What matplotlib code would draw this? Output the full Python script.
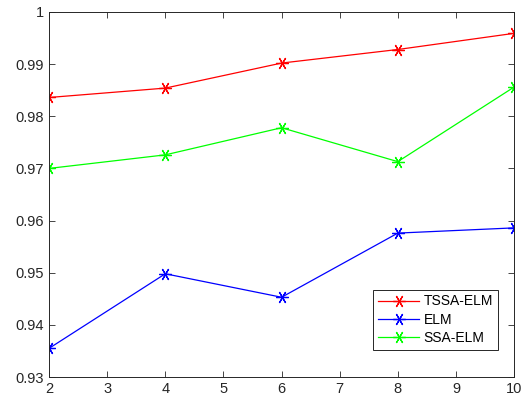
import matplotlib
matplotlib.use("Agg")
import matplotlib.pyplot as plt

plt.rcParams['font.family'] = ['Liberation Sans', 'DejaVu Sans']

x = [2, 4, 6, 8, 10]
tssa_elm = [0.9836, 0.9854, 0.9902, 0.9928, 0.9959]
elm = [0.9355, 0.9498, 0.9453, 0.9576, 0.9586]
ssa_elm = [0.9700, 0.9726, 0.9778, 0.9713, 0.9856]

fig = plt.figure(figsize=(5.3, 4.05), dpi=100)
ax = fig.add_axes([0.0925, 0.069, 0.8775, 0.9015])

mk = (6, 2, 90)
for vals, col, lab in [(tssa_elm, '#ff0000', 'TSSA-ELM'), (elm, '#0000ff', 'ELM'), (ssa_elm, '#00ff00', 'SSA-ELM')]:
    ax.plot(x, vals, color=col, marker=mk, markersize=9, markeredgewidth=0.9, linewidth=0.9, label=lab)

ax.set_xlim(2, 10)
ax.set_ylim(0.93, 1.0)
ax.set_xticks(range(2, 11))
ax.set_yticks([0.93, 0.94, 0.95, 0.96, 0.97, 0.98, 0.99, 1.0])
ax.set_yticklabels(['0.93', '0.94', '0.95', '0.96', '0.97', '0.98', '0.99', '1'])
ax.tick_params(direction='in', top=True, right=True, labelsize=10.5, colors='#262626', length=4, width=0.6)
for s in ax.spines.values():
    s.set_linewidth(0.7)
    s.set_color('#262626')

leg = ax.legend(loc='lower right', bbox_to_anchor=(0.965, 0.075), fontsize=10, fancybox=False,
                framealpha=1, edgecolor='#262626', borderpad=0.35, labelspacing=0.3,
                handlelength=3.0, handletextpad=0.3, borderaxespad=0)
leg.get_frame().set_linewidth(0.7)

fig.savefig('out.png', dpi=100)
